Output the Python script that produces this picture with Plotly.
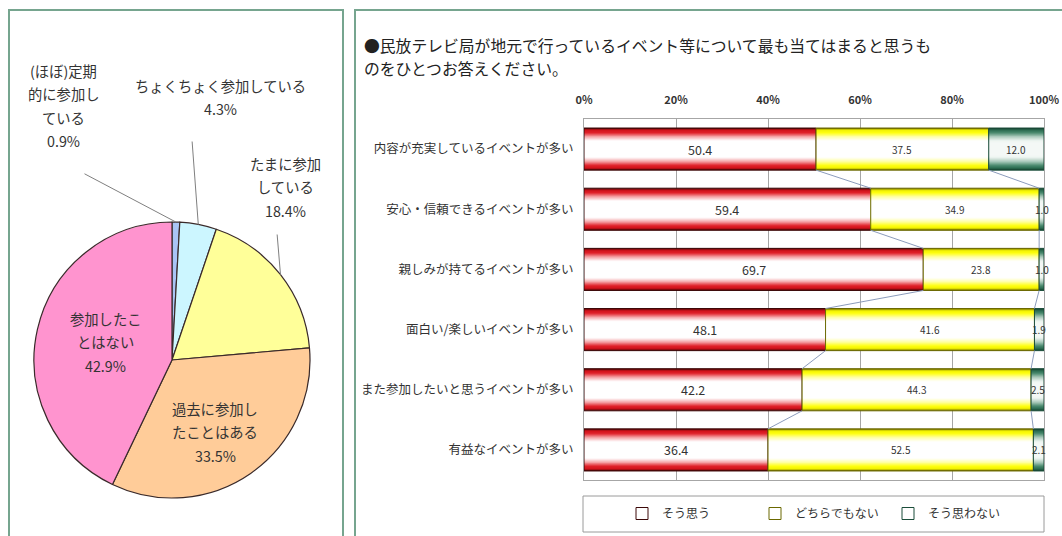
import math
import plotly.graph_objects as go

W, H = 1062, 536

# ---------------- data ----------------
pie_labels = ["(ほぼ)定期的に参加している", "ちょくちょく参加している", "たまに参加している",
              "過去に参加したことはある", "参加したことはない"]
pie_values = [0.9, 4.3, 18.4, 33.5, 42.9]
pie_label_lines = [["(ほぼ)定期", "的に参加し", "ている"], ["ちょくちょく参加している"],
                   ["たまに参加", "している"], ["過去に参加し", "たことはある"], ["参加したこ", "とはない"]]

categories = ["内容が充実しているイベントが多い", "安心・信頼できるイベントが多い", "親しみが持てるイベントが多い",
              "面白い/楽しいイベントが多い", "また参加したいと思うイベントが多い", "有益なイベントが多い"]
series_names = ["そう思う", "どちらでもない", "そう思わない"]
agree = [50.4, 59.4, 69.7, 48.1, 42.2, 36.4]
neutral = [37.5, 34.9, 23.8, 41.6, 44.3, 52.5]
disagree = [12.0, 1.0, 1.0, 1.9, 2.5, 2.1]
x_ticks = [0, 20, 40, 60, 80, 100]
x_tick_labels = ["0%", "20%", "40%", "60%", "80%", "100%"]

title_lines = ["●民放テレビ局が地元で行っているイベント等について最も当てはまると思うも",
               "のをひとつお答えください。"]

# ---------------- styling ----------------
FONT = "Noto Sans CJK JP"
TXT = "#333333"
pie_colors = ["#a9c4f5", "#ccf6ff", "#ffff99", "#ffcc99", "#ff94cf"]
pie_label_pos = [(63, 70), (220, 85), (285, 163), (215, 408), (105, 318)]
pie_leader_tail = {0: (83, 173), 1: (192, 140), 2: (277, 233)}
LINE_SP = 23.5
cx, cy, R = 172, 360, 138


def hex2rgb(h):
    h = h.lstrip('#')
    return tuple(int(h[i:i + 2], 16) for i in (0, 2, 4))


def interp_layers(stops, n=16):
    """stops: list of (width_fraction, hex) from outer to inner"""
    out = []
    fr_outer, fr_inner = stops[0][0], stops[-1][0]
    for s in range(n):
        f = fr_outer - (fr_outer - fr_inner) * s / (n - 1)
        for (f0, c0), (f1, c1) in zip(stops[:-1], stops[1:]):
            if f1 <= f <= f0:
                t = 0 if f0 == f1 else (f0 - f) / (f0 - f1)
                a, b = hex2rgb(c0), hex2rgb(c1)
                rgb = tuple(round(a[i] + (b[i] - a[i]) * t) for i in range(3))
                out.append((f, 'rgb(%d,%d,%d)' % rgb))
                break
    return out


fig = go.Figure()

fig.add_trace(go.Pie(
    labels=pie_labels, values=pie_values, sort=False, direction="clockwise", rotation=0,
    marker=dict(colors=pie_colors, line=dict(color="#3a2a2a", width=1.2)),
    textinfo="none", showlegend=False,
    domain=dict(x=[(cx - R) / W, (cx + R) / W], y=[1 - (cy + R) / H, 1 - (cy - R) / H]),
))

annotations = []
for i, (lines, v) in enumerate(zip(pie_label_lines, pie_values)):
    px0, py0 = pie_label_pos[i]
    for j, t in enumerate(lines + [f"{v}%"]):
        annotations.append(dict(
            x=px0 / W, y=1 - (py0 + j * LINE_SP) / H, xref="paper", yref="paper",
            text=t, showarrow=False, xanchor="center", yanchor="middle",
            font=dict(family=FONT, size=14.3, color=TXT)))
tot = sum(pie_values)
cum = 0
for i, v in enumerate(pie_values):
    mid = (cum + v / 2) / tot * 2 * math.pi
    cum += v
    if i in pie_leader_tail:
        tx, ty = cx + R * math.sin(mid), cy - R * math.cos(mid)
        lx, ly = pie_leader_tail[i]
        annotations.append(dict(
            x=tx / W, y=1 - ty / H, xref="paper", yref="paper", text="",
            showarrow=True, arrowhead=0, arrowwidth=1, arrowcolor="#7f7f7f",
            ax=lx - tx, ay=ly - ty, axref="pixel", ayref="pixel"))

# ---------------- bars ----------------
totals = [a + b + c for a, b, c in zip(agree, neutral, disagree)]
series = [agree, neutral, disagree]
norm = [[v / t * 100 for v, t in zip(s, totals)] for s in series]
bases = [[0] * len(categories), norm[0], [a + b for a, b in zip(norm[0], norm[1])]]
ypos = list(range(len(categories)))
BAR_W = 0.7

for k in range(2):
    ends = [b + n for b, n in zip(bases[k], norm[k])]
    xs, ys = [], []
    for i in range(len(categories) - 1):
        xs += [ends[i], ends[i + 1], None]
        ys += [i + BAR_W / 2, i + 1 - BAR_W / 2, None]
    fig.add_trace(go.Scatter(x=xs, y=ys, mode="lines", line=dict(color="#8c9cbc", width=1),
                             showlegend=False, hoverinfo="skip"))

grad_stops = [
    [(1.0, '#5a0808'), (0.93, '#d0121a'), (0.80, '#e0222a'), (0.62, '#f4a0a3'), (0.42, '#ffffff'), (0.30, '#ffffff')],
    [(1.0, '#7a7400'), (0.93, '#f0f000'), (0.80, '#ffff10'), (0.62, '#ffffa0'), (0.42, '#ffffff'), (0.30, '#ffffff')],
    [(1.0, '#174632'), (0.93, '#2a6a50'), (0.80, '#4a8a6e'), (0.62, '#a9c8ba'), (0.42, '#eef5f1'), (0.30, '#f4f8f6')],
]
outline = ['#3c0808', '#6b6800', '#1b4d3a']

for k in range(3):
    for frac, col in interp_layers(grad_stops[k]):
        fig.add_trace(go.Bar(x=norm[k], y=ypos, base=bases[k], orientation="h",
                             width=BAR_W * frac, marker=dict(color=col, line=dict(width=0)),
                             showlegend=False, hoverinfo="skip"))
    fig.add_trace(go.Bar(x=norm[k], y=ypos, base=bases[k], orientation="h", width=BAR_W,
                         marker=dict(color="rgba(0,0,0,0)", line=dict(color=outline[k], width=1)),
                         name=series_names[k], customdata=series[k],
                         hovertemplate="%{customdata}<extra>" + series_names[k] + "</extra>"))

label_sizes = [12.5, 10, 10]
for k in range(3):
    for i in ypos:
        annotations.append(dict(
            x=bases[k][i] + norm[k][i] / 2, y=i, xref="x", yref="y", text=f"{series[k][i]:.1f}",
            showarrow=False, font=dict(family=FONT, size=label_sizes[k], color=TXT)))

for j, t in enumerate(title_lines):
    annotations.append(dict(x=362 / W, y=1 - (45 + j * 23) / H, xref="paper", yref="paper",
                            text=t, showarrow=False, xanchor="left", yanchor="middle",
                            font=dict(family=FONT, size=15.8, color="#222222")))

shapes = [
    dict(type="rect", xref="paper", yref="paper", x0=9 / W, x1=343 / W, y0=-0.05, y1=1 - 10 / H,
         line=dict(color="#76a58f", width=2), layer="below"),
    dict(type="rect", xref="paper", yref="paper", x0=355 / W, x1=1.05, y0=-0.05, y1=1 - 10 / H,
         line=dict(color="#76a58f", width=2), layer="below"),
    dict(type="rect", xref="paper", yref="paper", x0=583 / W, x1=1044 / W, y0=1 - 532 / H, y1=1 - 496 / H,
         line=dict(color="#9a9a9a", width=1), layer="below"),
]

fig.update_layout(
    width=W, height=H, margin=dict(l=0, r=0, t=0, b=0, autoexpand=False),
    paper_bgcolor="white", plot_bgcolor="white",
    barmode="overlay",
    annotations=annotations, shapes=shapes,
    xaxis=dict(domain=[584 / W, 1044 / W], range=[0, 100], side="top",
               tickvals=x_ticks, ticktext=x_tick_labels, showgrid=True, gridcolor="#a6a6a6",
               showline=True, mirror=True, linecolor="#a6a6a6", zeroline=False, ticks="",
               ticklabelstandoff=10, tickfont=dict(family=FONT, size=11, color=TXT, weight="bold")),
    yaxis=dict(domain=[1 - 480 / H, 1 - 119 / H], range=[5.5, -0.5],
               tickvals=ypos, ticktext=categories, showgrid=False, zeroline=False,
               showline=True, mirror=True, linecolor="#a6a6a6", ticks="",
               ticklabelstandoff=7, tickfont=dict(family=FONT, size=12.5, color=TXT)),
    legend=dict(orientation="h", x=622 / W, xanchor="left", y=1 - 499 / H, yanchor="top",
                borderwidth=0, entrywidth=88, entrywidthmode="pixels",
                font=dict(family=FONT, size=12, color=TXT), bgcolor="rgba(0,0,0,0)"),
    hovermode="closest",
)

fig.write_html("out.html", config={"displayModeBar": False},
               post_script="document.body.style.margin='0';document.body.style.overflow='hidden';")
